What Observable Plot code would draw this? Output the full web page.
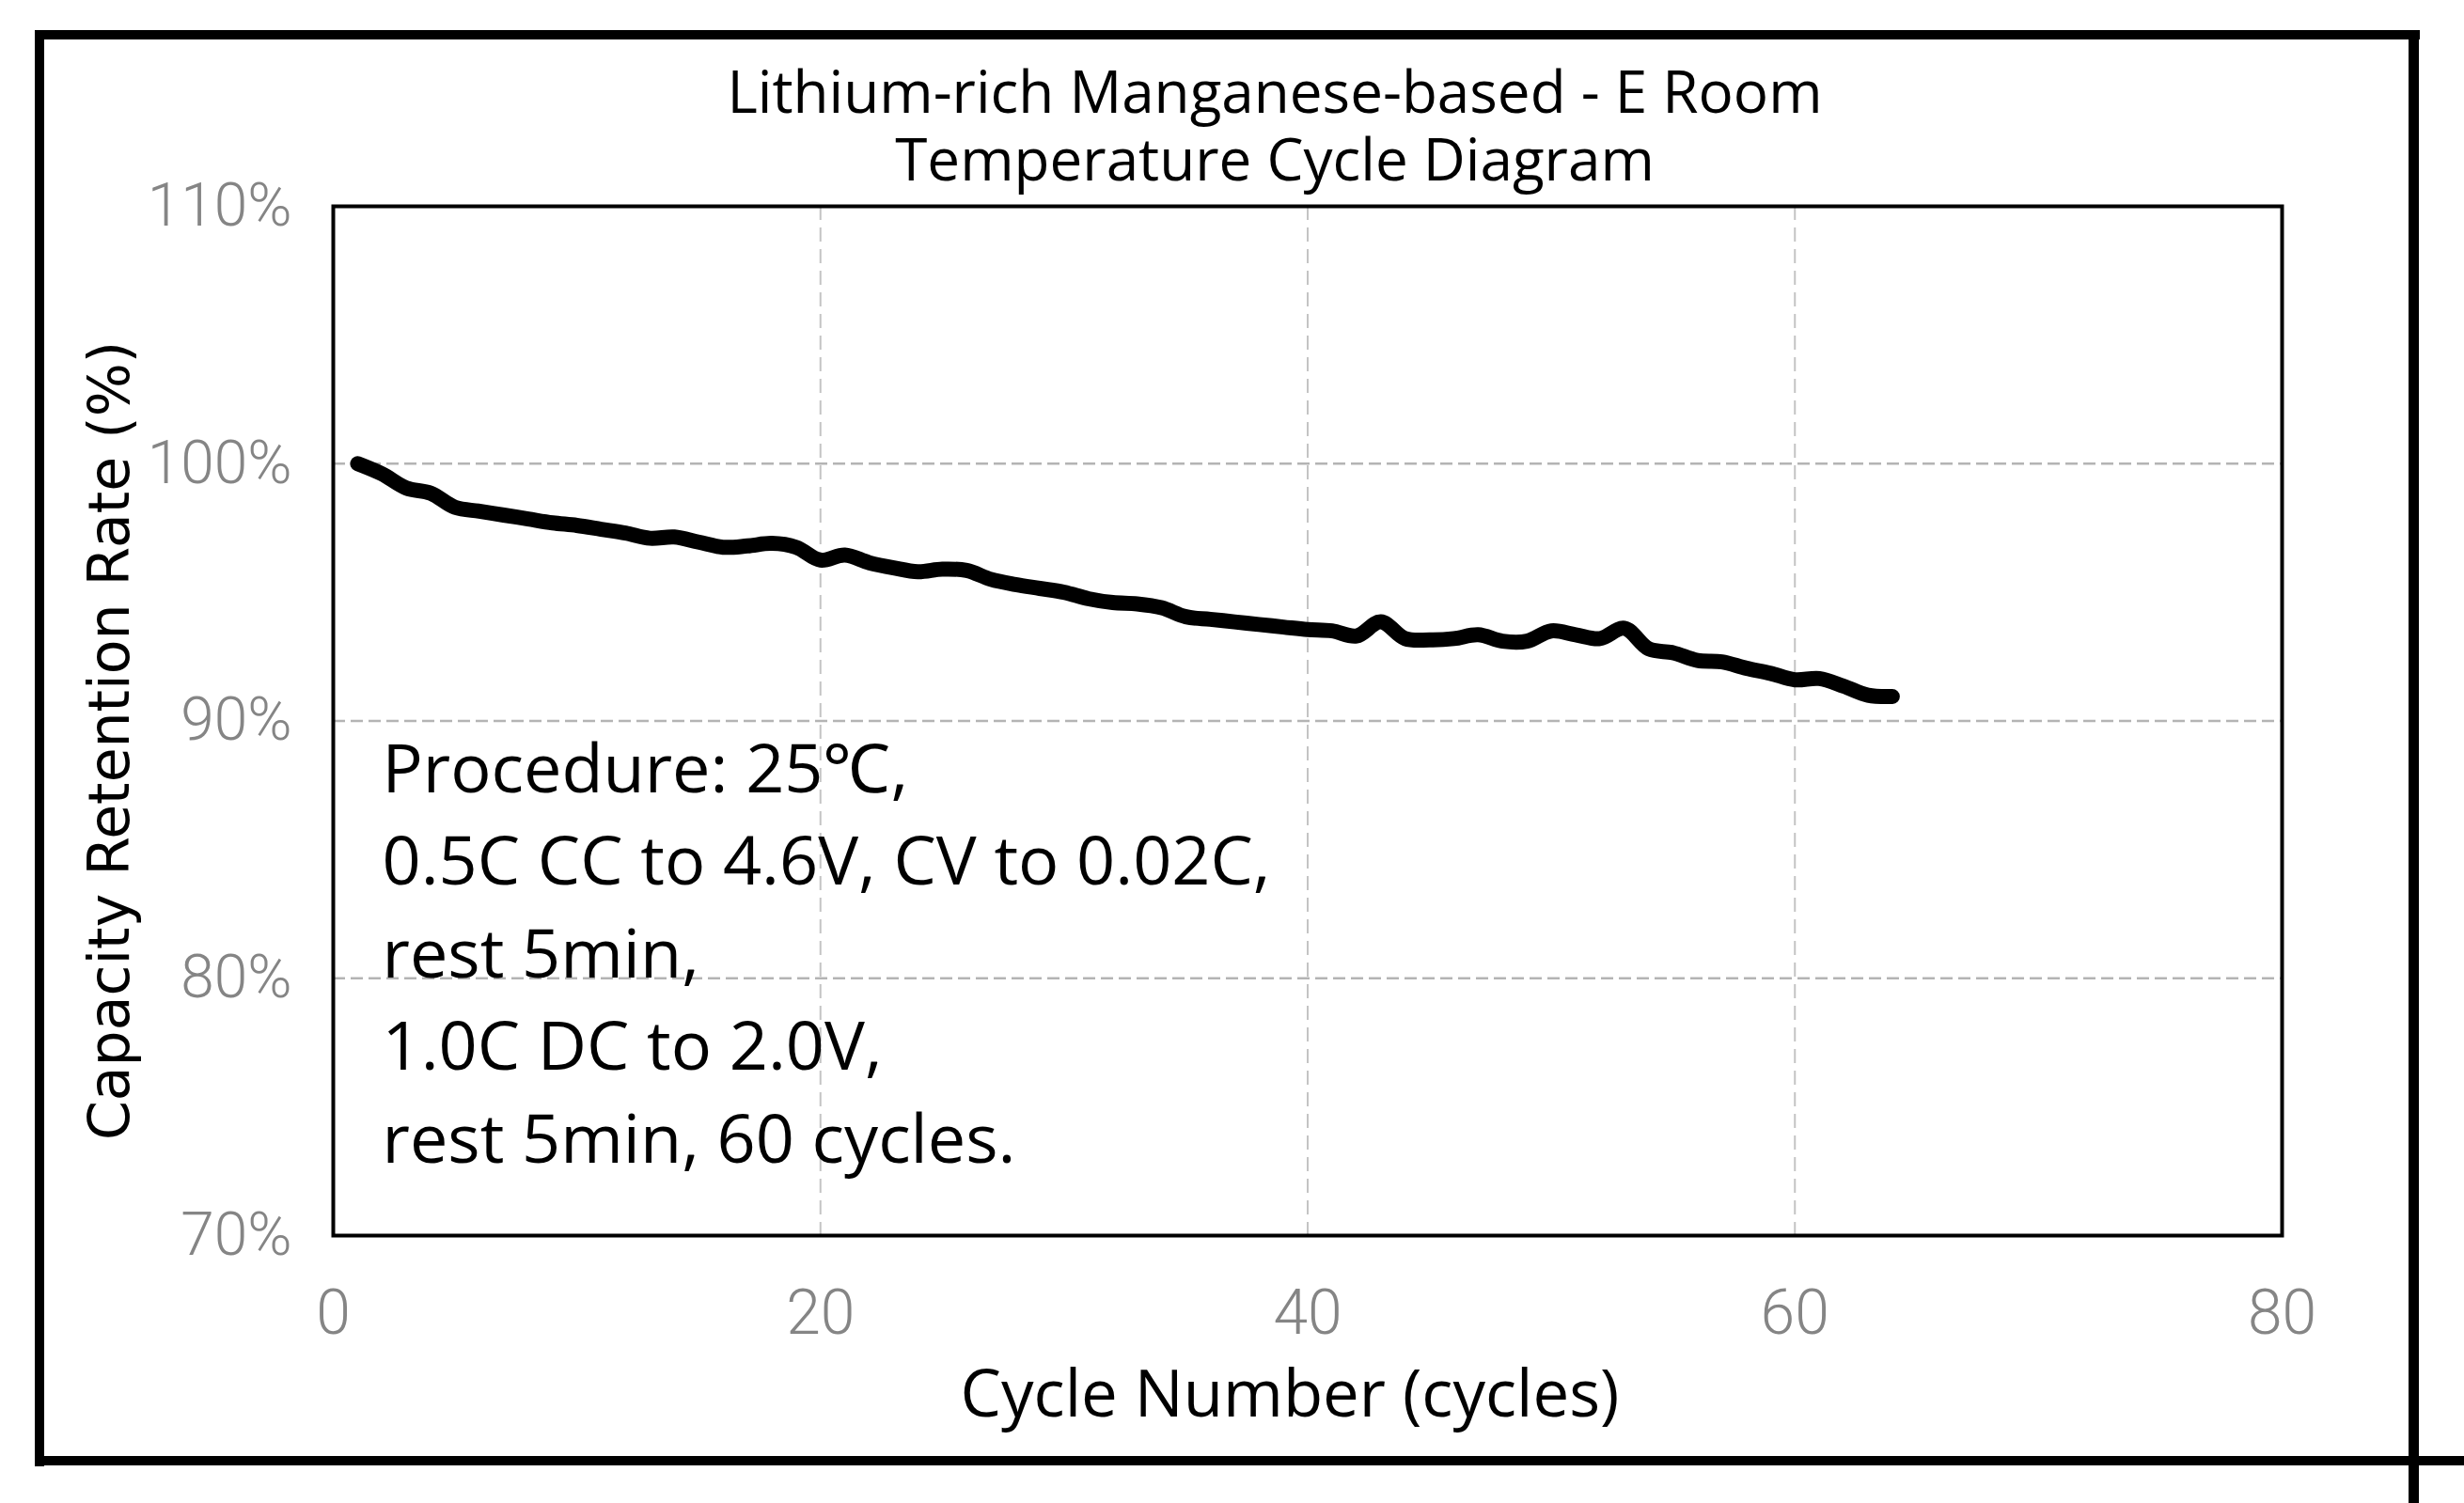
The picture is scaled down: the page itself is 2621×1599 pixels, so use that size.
<!DOCTYPE html>
<html>
<head>
<meta charset="utf-8">
<script src="https://cdn.jsdelivr.net/npm/d3@7"></script>
<script src="https://cdn.jsdelivr.net/npm/@observablehq/plot@0.6"></script>
<style>
  html, body { margin: 0; padding: 0; background: #fff; overflow: hidden; }
  #wrap { position: relative; width: 2621px; height: 1599px; background: #fff; }
  #title { position: absolute; left: 556px; top: 60px; width: 1600px; text-align: center; font-family: "Open Sans", sans-serif; font-size: 62px; line-height: 72px; color: #000; white-space: pre-line; }
  .bd { position: absolute; background: #000; }
  #chart { position: absolute; left: 0; top: 0; }
</style>
</head>
<body>
<div id="wrap">
  <div id="chart"></div>
  <div id="title"></div>
  <div class="bd" style="left:37px; top:32px; width:2537px; height:10px;"></div>
  <div class="bd" style="left:37px; top:32px; width:10px; height:1528px;"></div>
  <div class="bd" style="left:37px; top:1549px; width:2584px; height:10px;"></div>
  <div class="bd" style="left:2562px; top:32px; width:11px; height:1567px;"></div>
</div>
<script>
const titleLines = ["Lithium-rich Manganese-based - E Room", "Temperature Cycle Diagram"];
const xLabel = "Cycle Number (cycles)";
const yLabel = "Capacity Retention Rate (%)";
const noteLines = [
  "Procedure: 25\u2103,",
  "0.5C CC to 4.6V, CV to 0.02C,",
  "rest 5min,",
  "1.0C DC to 2.0V,",
  "rest 5min, 60 cycles."
];
const xTicks = [0, 20, 40, 60, 80];
const yTicks = [70, 80, 90, 100, 110];
const xGrid = [20, 40, 60];
const yGrid = [80, 90, 100];

const cycles = [1,2,3,4,5,6,7,8,9,10,11,12,13,14,15,16,17,18,19,20,
  21,22,23,24,25,26,27,28,29,30,31,32,33,34,35,36,37,38,39,40,
  41,42,43,44,45,46,47,48,49,50,51,52,53,54,55,56,57,58,59,60,
  61,62,63,64];
const retention = [100.0,99.6,99.05,98.85,98.3,98.15,98.0,97.85,97.7,97.6,
  97.45,97.3,97.1,97.15,96.95,96.75,96.8,96.9,96.75,96.25,
  96.45,96.15,95.95,95.8,95.9,95.85,95.5,95.3,95.15,95.0,
  94.75,94.6,94.55,94.4,94.05,93.95,93.85,93.75,93.65,93.55,
  93.5,93.3,93.85,93.2,93.15,93.2,93.35,93.1,93.1,93.5,
  93.35,93.2,93.6,92.8,92.65,92.35,92.3,92.05,91.85,91.6,
  91.65,91.35,91.0,90.95];

const data = cycles.map((c, i) => ({cycle: c, ret: retention[i]}));

document.getElementById("title").textContent = titleLines.join("\n");

const chart = Plot.plot({
  width: 2621,
  height: 1599,
  marginLeft: 354,
  marginRight: 194,
  marginTop: 219,
  marginBottom: 285,
  style: {background: "transparent", overflow: "visible"},
  x: {domain: [0, 80]},
  y: {domain: [70, 110]},
  marks: [
    Plot.ruleY(yGrid, {stroke: "#b4b4b4", strokeWidth: 2.5, strokeDasharray: "13,6"}),
    Plot.ruleX(xGrid, {stroke: "#c4c4c4", strokeWidth: 2, strokeDasharray: "15,8"}),
    Plot.axisX({ticks: xTicks, tickSize: 0, tickPadding: 58, fontSize: 66, fontFamily: "Roboto", fontWeight: 300, color: "#858585", label: null}),
    Plot.axisY({ticks: yTicks, tickSize: 0, tickPadding: 44, tickFormat: d => d + "%", fontSize: 64, fontFamily: "Roboto", fontWeight: 300, color: "#858585", label: null}),
    Plot.text([xLabel], {text: d => d, frameAnchor: "bottom", lineAnchor: "middle", dx: -19, dy: 170, fontSize: 69, fontFamily: "Open Sans", fill: "#000"}),
    Plot.text([yLabel], {text: d => d, frameAnchor: "left", textAnchor: "middle", lineAnchor: "middle", rotate: -90, dx: -237, dy: 21, fontSize: 60, fontFamily: "DejaVu Sans", fill: "#000"}),
    Plot.text([noteLines.join("\n")], {text: d => d, frameAnchor: "top-left", textAnchor: "start", lineAnchor: "top", dx: 52, dy: 553, lineHeight: 1.37, fontSize: 72, fontFamily: "Open Sans", fill: "#000"}),
    Plot.line(data, {x: "cycle", y: "ret", stroke: "#000", strokeWidth: 16, strokeLinejoin: "round", strokeLinecap: "round", curve: "catmull-rom"}),
    Plot.frame({stroke: "#000", strokeWidth: 4})
  ]
});
document.getElementById("chart").appendChild(chart);
</script>
</body>
</html>
